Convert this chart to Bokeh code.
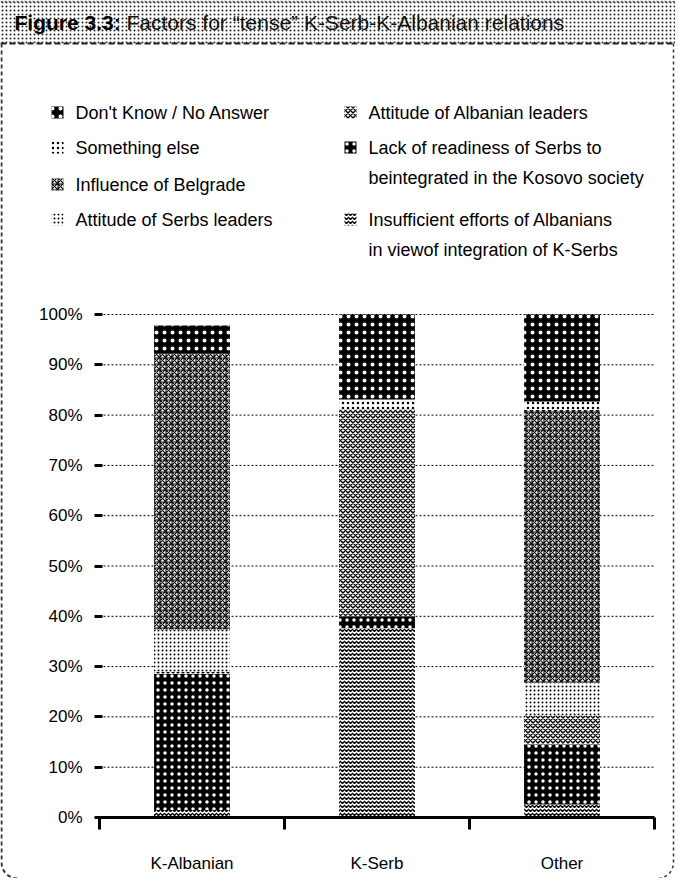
import numpy as np
from bokeh.plotting import figure
from bokeh.models import Range1d, FixedTicker, LinearAxis
from bokeh.core.properties import value
from bokeh.embed import file_html
from bokeh.resources import INLINE

# ---------------- data ----------------
categories = ["K-Albanian", "K-Serb", "Other"]
cat_x = [0.5, 1.5, 2.5]

# stacked from the bottom up
insufficient_efforts = [1.5, 37.6, 2.6]
lack_of_readiness = [27.1, 2.4, 11.9]
albanian_leaders = [0.4, 41.1, 5.8]
serbs_leaders = [8.4, 0.0, 6.5]
influence_belgrade = [54.8, 0.0, 54.2]
something_else = [0.0, 2.0, 1.7]
dont_know = [5.6, 16.9, 17.3]

y_ticks = [0, 10, 20, 30, 40, 50, 60, 70, 80, 90, 100]
y_tick_labels = ["0%", "10%", "20%", "30%", "40%", "50%", "60%", "70%", "80%", "90%", "100%"]

title_bold = "Figure 3.3:"
title_rest = "Factors for \u201ctense\u201d K-Serb-K-Albanian relations"

# ---------------- geometry helpers (figure pixels -> data) ----------------
W, H = 675, 878
FX0, FX3 = 99, 654      # pixel columns of x=0 and x=3
FY0, FY100 = 817, 314   # pixel rows of 0% and 100%
SX = (FX3 - FX0) / 3.0
SY = (FY0 - FY100) / 100.0


def X(px):
    return (px - FX0) / SX


def Y(py):
    return (FY0 - py) / SY


FONT = "Liberation Sans"

p = figure(width=W, height=H, output_backend="svg", toolbar_location=None,
           x_range=Range1d(X(0), X(W)), y_range=Range1d(Y(H), Y(0)),
           x_axis_type=None, y_axis_type=None, min_border=0, title=None)
p.outline_line_color = None
p.background_fill_color = "white"
p.border_fill_color = "white"

# ---------------- frame & header ----------------
p.quad(left=[X(0)], right=[X(W)], top=[Y(0)], bottom=[Y(43)],
       fill_color="white", hatch_pattern=".", hatch_color="#222222",
       hatch_scale=4, hatch_weight=0.7, line_color=None)
p.line(x=[X(0), X(W)], y=[Y(43), Y(43)], line_color="#222222", line_width=2, line_dash="6 3")
p.line(x=[X(0), X(W)], y=[Y(1), Y(1)], line_color="#555555", line_width=1.5, line_dash="2 2")

# rounded dashed border
t = np.linspace(0, np.pi / 2, 12)
r = 16
lx = list(np.r_[1, 1, 1 + r - r * np.cos(t)])
ly = list(np.r_[43, H - r, H - r + r * np.sin(t)])
p.line(x=[X(v) for v in lx], y=[Y(v) for v in ly], line_color="#333333", line_width=2, line_dash="4 3")
rx = list(np.r_[673, 673, 673 - r + r * np.cos(t)])
p.line(x=[X(v) for v in rx], y=[Y(v) for v in ly], line_color="#333333", line_width=1.5, line_dash="3 3")

p.text(x=[X(14)], y=[Y(22)], text=[title_bold], text_font=value(FONT), text_font_style="bold",
       text_font_size="21px", text_baseline="middle", text_align="left", text_color="black")
p.text(x=[X(126)], y=[Y(22)], text=[title_rest], text_font=value(FONT),
       text_font_size="21px", text_baseline="middle", text_align="left", text_color="#111111")

# ---------------- series styles ----------------
series = [
    ("Insufficient efforts of Albanians\nin viewof integration of K-Serbs", insufficient_efforts,
     dict(fill_color="white", hatch_pattern="v", hatch_color="black", hatch_scale=4, hatch_weight=1.4)),
    ("Lack of readiness of Serbs to\nbeintegrated in the Kosovo society", lack_of_readiness,
     dict(fill_color="black", hatch_pattern=".", hatch_color="white", hatch_scale=7, hatch_weight=1.3)),
    ("Attitude of Albanian leaders", albanian_leaders,
     dict(fill_color="white", hatch_pattern="x", hatch_color="black", hatch_scale=5, hatch_weight=1.4)),
    ("Attitude of Serbs leaders", serbs_leaders,
     dict(fill_color="white", hatch_pattern=".", hatch_color="black", hatch_scale=4, hatch_weight=1.0)),
    ("Influence of Belgrade", influence_belgrade,
     dict(fill_color="white", hatch_pattern="*", hatch_color="black", hatch_scale=6, hatch_weight=1.1)),
    ("Something else", something_else,
     dict(fill_color="white", hatch_pattern=".", hatch_color="black", hatch_scale=5, hatch_weight=1.0)),
    ("Don't Know / No Answer", dont_know,
     dict(fill_color="black", hatch_pattern=".", hatch_color="white", hatch_scale=8, hatch_weight=1.3)),
]

# ---------------- gridlines ----------------
grid_vals = [v for v in y_ticks if v > 0]
p.segment(x0=[0] * len(grid_vals), x1=[3] * len(grid_vals), y0=grid_vals, y1=grid_vals,
          line_color="black", line_width=1, line_dash="2 2")

# ---------------- bars ----------------
bottom = np.zeros(len(categories))
for name, vals, st in series:
    vals = np.array(vals, dtype=float)
    top = bottom + vals
    p.vbar(x=cat_x, width=0.41, bottom=list(bottom), top=list(top), line_color=None, **st)
    bottom = top

# ---------------- axes ----------------
yaxis = LinearAxis(fixed_location=0, bounds=(0, 100),
                   ticker=FixedTicker(ticks=y_ticks, minor_ticks=[]),
                   major_label_overrides={t_: l for t_, l in zip(y_ticks, y_tick_labels)},
                   axis_line_color=None, major_tick_in=3, major_tick_out=5,
                   major_tick_line_width=3, minor_tick_line_color=None,
                   major_label_standoff=12, major_label_text_font=FONT,
                   major_label_text_font_size="17px", major_label_text_color="black")
p.add_layout(yaxis, "left")

xaxis = LinearAxis(fixed_location=0, bounds=(0, 3),
                   ticker=FixedTicker(ticks=cat_x, minor_ticks=[0, 1, 2, 3]),
                   major_label_overrides={t_: c for t_, c in zip(cat_x, categories)},
                   axis_line_width=3, axis_line_color="black",
                   major_tick_in=0, major_tick_out=0,
                   minor_tick_in=0, minor_tick_out=12, minor_tick_line_width=3,
                   minor_tick_line_color="black",
                   major_label_standoff=24, major_label_text_font=FONT,
                   major_label_text_font_size="17px", major_label_text_color="black")
p.add_layout(xaxis, "below")

# ---------------- legend (manual) ----------------
legend_left = ["Don't Know / No Answer", "Something else", "Influence of Belgrade", "Attitude of Serbs leaders"]
legend_right = ["Attitude of Albanian leaders",
                "Lack of readiness of Serbs to\nbeintegrated in the Kosovo society",
                "Insufficient efforts of Albanians\nin viewof integration of K-Serbs"]
style_by_name = {n: st for n, _, st in series}

sw = 12
left_rows = [112, 147, 184, 219]
right_rows = [112, 147, 219]
second_line_gap = 30

for name, row in zip(legend_left, left_rows):
    st = style_by_name[name]
    p.rect(x=[X(57)], y=[Y(row)], width=sw / SX, height=sw / SY, line_color=None, **st)
    p.text(x=[X(75)], y=[Y(row)], text=[name], text_font=value(FONT), text_font_size="18px",
           text_baseline="middle", text_align="left", text_color="black")

for name, row in zip(legend_right, right_rows):
    st = style_by_name[name]
    p.rect(x=[X(350)], y=[Y(row)], width=sw / SX, height=sw / SY, line_color=None, **st)
    for k, line in enumerate(name.split("\n")):
        p.text(x=[X(368)], y=[Y(row + k * second_line_gap)], text=[line], text_font=value(FONT),
               text_font_size="18px", text_baseline="middle", text_align="left", text_color="black")

open("out.html", "w").write(file_html(p, INLINE))
